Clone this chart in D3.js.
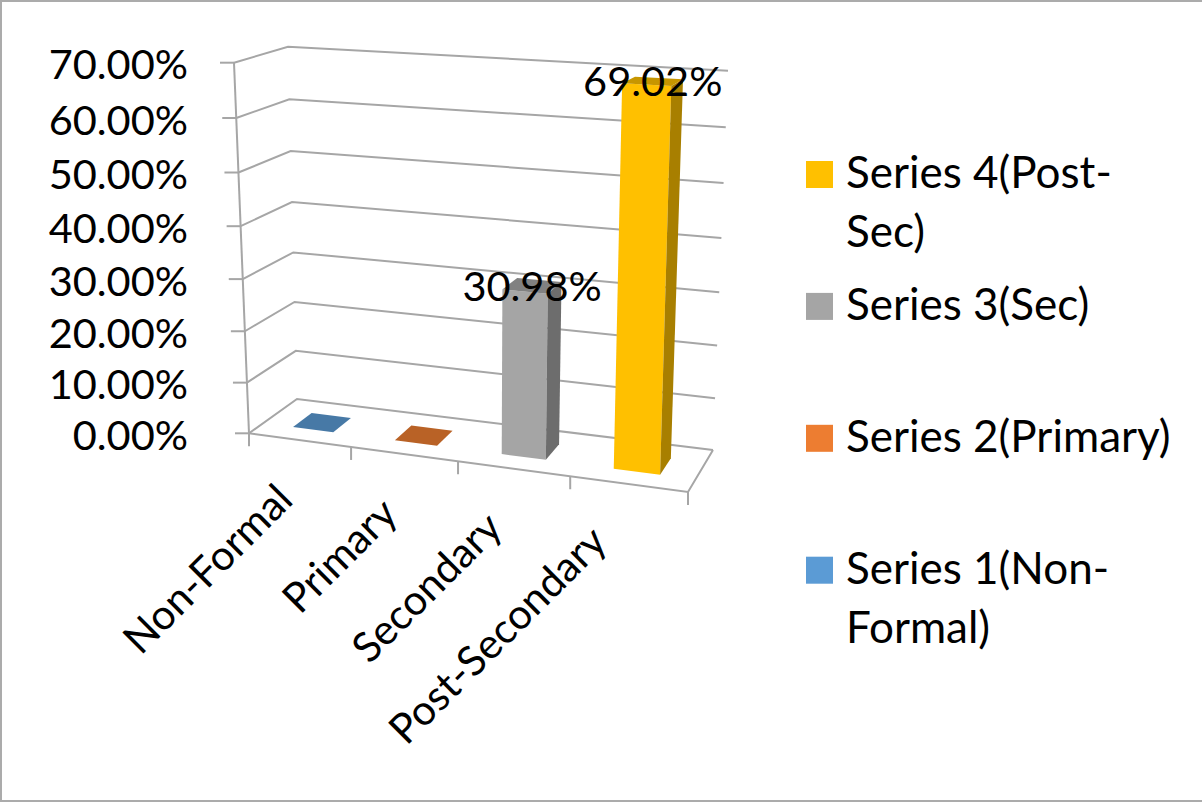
<!DOCTYPE html>
<html>
<head>
<meta charset="utf-8">
<script src="https://cdn.jsdelivr.net/npm/d3@7"></script>
<style>
  html, body { margin: 0; padding: 0; background: #ffffff; }
  svg { display: block; }
  text { font-family: Lato, "Liberation Sans", sans-serif; fill: #000000; }
</style>
</head>
<body>
<svg id="chart" width="1202" height="803"></svg>
<script>
// ---- data ----
const categories = ["Non-Formal", "Primary", "Secondary", "Post-Secondary"];
const seriesNames = ["Series 1(Non-Formal)", "Series 2(Primary)", "Series 3(Sec)", "Series 4(Post-Sec)"];
const seriesValues = [0, 0, 30.98, 69.02];          // percent, one bar per category
const seriesColors = ["#5B9BD5", "#ED7D31", "#A5A5A5", "#FFC000"];
const legendLines = [["Series 1(Non-", "Formal)"], ["Series 2(Primary)"], ["Series 3(Sec)"], ["Series 4(Post-", "Sec)"]];
const yTicks = [0, 10, 20, 30, 40, 50, 60, 70];

// ---- 3D box projection ----
// The plot box spans u (categories, 0..1), v (value, 0..1) and w (depth, 0 front .. 1 back).
// Its eight corners on screen; points inside are blended between them,
// with a perspective foreshortening along u and v.
const corner = {
  FBL: [249, 433.3], FTL: [234, 62.7], FBR: [688, 492], FTR: [701, 87],
  BBL: [297, 399],   BTL: [288, 46.7], BBR: [713, 450], BTR: [728, 70.7]
};
const foreshortenU = 0.909, foreshortenV = 0.95;
const persp = (t, a) => a * t / (1 + (a - 1) * t);
const lerp = (p, q, t) => [p[0] + (q[0] - p[0]) * t, p[1] + (q[1] - p[1]) * t];
function project(u, v, w) {
  const a = persp(u, foreshortenU), b = persp(v, foreshortenV);
  const front = lerp(lerp(corner.FBL, corner.FBR, a), lerp(corner.FTL, corner.FTR, a), b);
  const back  = lerp(lerp(corner.BBL, corner.BBR, a), lerp(corner.BTL, corner.BTR, a), b);
  return lerp(front, back, w);
}

// scales
const x = d3.scaleBand(categories, [0, 1]).paddingInner(0.6).paddingOuter(0.3);
const catStep = d3.scaleLinear([0, categories.length], [0, 1]);
const y = d3.scaleLinear([0, 70], [0, 1]);
const depth = [0.3, 0.7];                       // bar extent front..back
const pct = v => d3.format(".2%")(v / 100);

const svg = d3.select("#chart");
const gridColor = "#A6A6A6";
const numberSize = 41.5;   // numeric labels
const categorySize = 41.5; // category axis labels
const legendSize = 44;     // legend labels

// chart border (right edge runs off the canvas)
svg.append("rect").attr("x", 1).attr("y", 1).attr("width", 1210).attr("height", 800)
  .attr("fill", "#ffffff").attr("stroke", "#ABABAB").attr("stroke-width", 2);

const line = d3.line();
const grid = svg.append("g").attr("fill", "none").attr("stroke", gridColor).attr("stroke-width", 2);

// gridlines: left wall then back wall
yTicks.forEach(t => {
  const v = y(t);
  grid.append("path").attr("d", line([project(0, v, 0), project(0, v, 1), project(1, v, 1)]));
});
// floor outline (front and right edges)
grid.append("path").attr("d", line([project(0, 0, 0), project(1, 0, 0), project(1, 0, 1)]));
// value axis line
grid.append("path").attr("d", line([project(0, 1, 0), project(0, 0, 0)]));
// value axis tick marks
yTicks.forEach(t => {
  const p = project(0, y(t), 0);
  grid.append("path").attr("d", line([[p[0] - 14, p[1]], p]));
});
// category boundary tick marks
d3.range(categories.length + 1).forEach(i => {
  const p = project(catStep(i), 0, 0);
  grid.append("path").attr("d", line([p, [p[0], p[1] + 13]]));
});

// value axis labels
svg.append("g").selectAll("text").data(yTicks).join("text")
  .attr("x", 188).attr("y", t => project(0, y(t), 0)[1]).attr("dy", "0.4em")
  .attr("text-anchor", "end").attr("font-size", numberSize)
  .text(t => pct(t));

// bars
const shade = (c, k) => { const h = d3.rgb(c); return d3.rgb(h.r * k, h.g * k, h.b * k).formatHex(); };
const bars = svg.append("g");
categories.forEach((cat, i) => {
  const u0 = x(cat), u1 = x(cat) + x.bandwidth();
  const v = y(seriesValues[i]);
  const [w0, w1] = depth;
  const col = seriesColors[i];
  const g = bars.append("g");
  if (v > 0) {
    // front face
    g.append("path").attr("fill", col)
      .attr("d", line([project(u0, 0, w0), project(u1, 0, w0), project(u1, v, w0), project(u0, v, w0)]) + "Z");
    // right side face
    g.append("path").attr("fill", shade(col, 0.66))
      .attr("d", line([project(u1, 0, w0), project(u1, 0, w1), project(u1, v, w1), project(u1, v, w0)]) + "Z");
  }
  // top face
  g.append("path").attr("fill", shade(col, 0.78))
    .attr("d", line([project(u0, v, w0), project(u1, v, w0), project(u1, v, w1), project(u0, v, w1)]) + "Z");
});

// data labels, centred on the top of each bar
svg.append("g").selectAll("text").data(categories.map((c, i) => ({ c, v: seriesValues[i] })).filter(d => d.v > 0))
  .join("text")
  .attr("transform", d => {
    const p = project(x(d.c) + x.bandwidth() / 2, y(d.v), 0.5);
    return `translate(${p[0]},${p[1]})`;
  })
  .attr("dy", "0.36em").attr("text-anchor", "middle").attr("font-size", numberSize)
  .text(d => pct(d.v));

// category labels, rotated
const labelX = d3.scalePoint(categories, [295, 609]);
const labelY = d3.scalePoint(categories, [502, 544]);
svg.append("g").selectAll("text").data(categories).join("text")
  .attr("transform", c => `translate(${labelX(c)},${labelY(c)}) rotate(-45)`)
  .attr("text-anchor", "end").attr("font-size", categorySize)
  .text(c => c);

// legend (top entry is the last series)
const legendOrder = d3.range(seriesNames.length).reverse();
const legendY = d3.scalePoint(legendOrder, [161, 556.7]);
const legend = svg.append("g");
legendOrder.forEach(i => {
  const top = legendY(i);
  legend.append("rect").attr("x", 806).attr("y", top).attr("width", 27).attr("height", 27)
    .attr("fill", seriesColors[i]);
  const t = legend.append("text").attr("x", 846).attr("y", top + 27.3).attr("font-size", legendSize);
  legendLines[i].forEach((s, k) => {
    t.append("tspan").attr("x", 846).attr("dy", k === 0 ? 0 : 59).text(s);
  });
});
</script>
</body>
</html>
